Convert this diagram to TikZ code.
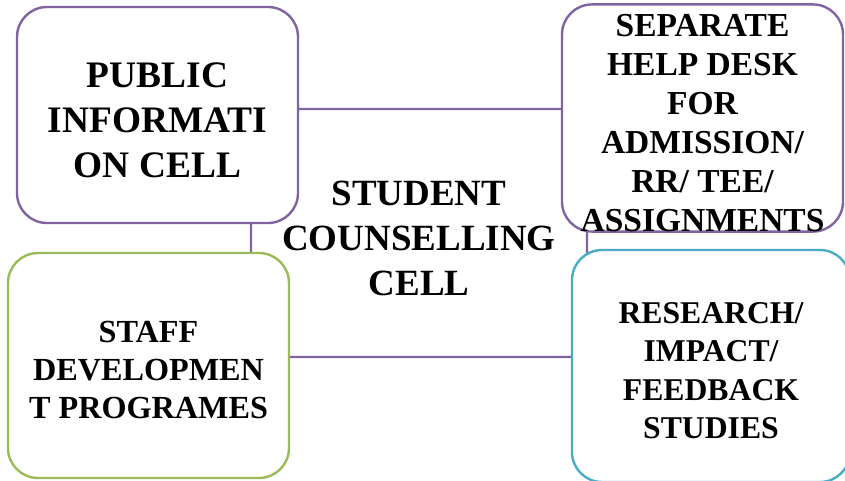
\documentclass[tikz,border=0pt]{standalone}
\usepackage{fontspec}
\setmainfont{Liberation Serif}
\definecolor{color1}{RGB}{128, 100, 162}
\definecolor{color2}{RGB}{155, 187, 89}
\definecolor{color3}{RGB}{75, 172, 198}
\newcommand{\capgap}{\rule{0pt}{0.95em}}

\begin{document}
\begin{tikzpicture}[x=1pt, y=-1pt, box/.style={draw=#1, line width=2.4pt, fill=white, rounded corners=30pt, align=center, inner sep=0pt}]
	\useasboundingbox (0,0) rectangle (845,480);
	\node[box=color1, rounded corners=18pt, minimum width=336pt, minimum height=248pt, font=\bfseries\fontsize{37}{45}\selectfont] (cell) at (419,233) {\capgap STUDENT\\COUNSELLING\\CELL};
	\node[box=color1, minimum width=281pt, minimum height=216pt, font=\bfseries\fontsize{37.4}{45}\selectfont] (pic) at (157.5,115) {\capgap PUBLIC\\INFORMATI\\ON CELL};
	\node[box=color1, minimum width=281pt, minimum height=224pt, font=\bfseries\fontsize{33.5}{39}\selectfont] (desk) at (702.5,118) {\capgap SEPARATE\\HELP DESK\\FOR\\ADMISSION/\\RR/ TEE/\\ASSIGNMENTS};
	\node[box=color2, minimum width=281pt, minimum height=225pt, font=\bfseries\fontsize{32.2}{38}\selectfont] (staff) at (148.5,365.5) {\capgap STAFF\\DEVELOPMEN\\T PROGRAMES};
	\node[box=color3, minimum width=278pt, minimum height=232pt, font=\bfseries\fontsize{31.7}{38.5}\selectfont] (research) at (711,366) {\capgap RESEARCH/\\IMPACT/\\FEEDBACK\\STUDIES};
\end{tikzpicture}
\end{document}
